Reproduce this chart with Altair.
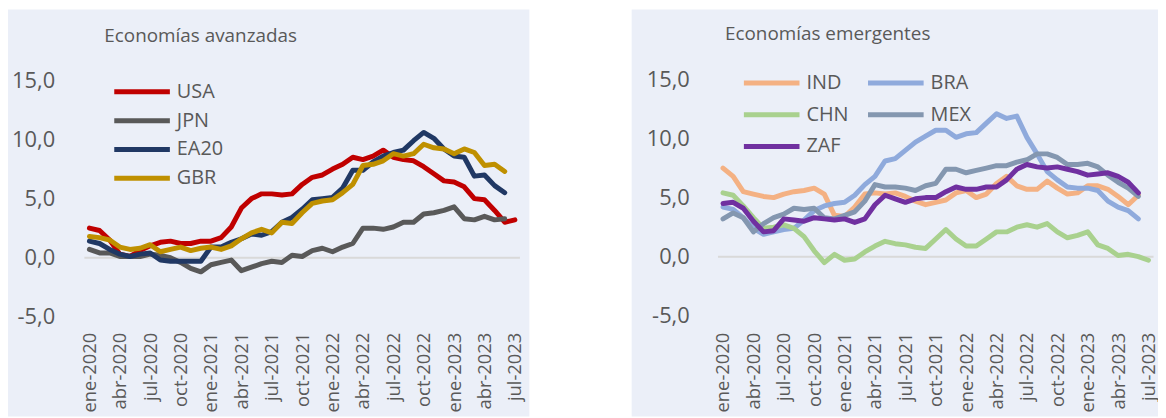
import json
import altair as alt
import pandas as pd

# ---------------- data ----------------
TICK_MONTHS = list(range(0, 43, 3))
TICK_LABELS = ["ene-2020", "abr-2020", "jul-2020", "oct-2020",
               "ene-2021", "abr-2021", "jul-2021", "oct-2021",
               "ene-2022", "abr-2022", "jul-2022", "oct-2022",
               "ene-2023", "abr-2023", "jul-2023"]
Y_TICKS = [-5, 0, 5, 10, 15]

ADV_TITLE = "Economías avanzadas"
ADV_NAMES = ["USA", "JPN", "EA20", "GBR"]
ADV_COLORS = ["#C00000", "#595959", "#203864", "#BF9000"]
USA = [2.5, 2.3, 1.5, 0.3, 0.1, 0.6, 1.0, 1.3, 1.4, 1.2, 1.2, 1.4,
       1.4, 1.7, 2.6, 4.2, 5.0, 5.4, 5.4, 5.3, 5.4, 6.2, 6.8, 7.0,
       7.5, 7.9, 8.5, 8.3, 8.6, 9.1, 8.5, 8.3, 8.2, 7.7, 7.1, 6.5,
       6.4, 6.0, 5.0, 4.9, 4.0, 3.0, 3.2]
JPN = [0.7, 0.4, 0.4, 0.1, 0.1, 0.1, 0.3, 0.2, 0.0, -0.4, -0.9, -1.2,
       -0.6, -0.4, -0.2, -1.1, -0.8, -0.5, -0.3, -0.4, 0.2, 0.1, 0.6, 0.8,
       0.5, 0.9, 1.2, 2.5, 2.5, 2.4, 2.6, 3.0, 3.0, 3.7, 3.8, 4.0,
       4.3, 3.3, 3.2, 3.5, 3.2, 3.3]
EA20 = [1.4, 1.2, 0.7, 0.3, 0.1, 0.3, 0.4, -0.2, -0.3, -0.3, -0.3, -0.3,
        0.9, 0.9, 1.3, 1.6, 2.0, 1.9, 2.2, 3.0, 3.4, 4.1, 4.9, 5.0,
        5.1, 5.9, 7.4, 7.4, 8.1, 8.6, 8.9, 9.1, 9.9, 10.6, 10.1, 9.2,
        8.6, 8.5, 6.9, 7.0, 6.1, 5.5]
GBR = [1.8, 1.7, 1.5, 0.9, 0.7, 0.8, 1.1, 0.5, 0.7, 0.9, 0.6, 0.8,
       0.9, 0.7, 1.0, 1.6, 2.1, 2.4, 2.1, 3.0, 2.9, 3.8, 4.6, 4.8,
       4.9, 5.5, 6.2, 7.8, 7.9, 8.2, 8.8, 8.6, 8.8, 9.6, 9.3, 9.2,
       8.8, 9.2, 8.9, 7.8, 7.9, 7.3]

EME_TITLE = "Economías emergentes"
EME_NAMES = ["IND", "BRA", "CHN", "MEX", "ZAF"]
EME_COLORS = ["#F4B183", "#8FAADC", "#A9D18E", "#8497B0", "#7030A0"]
IND = [7.5, 6.8, 5.5, 5.3, 5.1, 5.0, 5.3, 5.5, 5.6, 5.8, 5.3, 3.5,
       3.4, 4.2, 5.3, 5.4, 5.3, 5.4, 5.1, 4.7, 4.4, 4.6, 4.8, 5.4,
       5.6, 5.0, 5.3, 6.2, 6.8, 6.0, 5.7, 5.7, 6.4, 5.8, 5.3, 5.4,
       6.0, 6.0, 5.7, 5.1, 4.4, 5.2]
BRA = [4.2, 4.0, 3.3, 2.4, 1.9, 2.1, 2.3, 2.4, 3.1, 3.9, 4.3, 4.5,
       4.6, 5.2, 6.1, 6.8, 8.1, 8.3, 9.0, 9.7, 10.2, 10.7, 10.7, 10.1,
       10.4, 10.5, 11.3, 12.1, 11.7, 11.9, 10.1, 8.7, 7.2, 6.5, 5.9, 5.8,
       5.8, 5.6, 4.7, 4.2, 3.9, 3.2]
CHN = [5.4, 5.2, 4.3, 3.3, 2.4, 2.5, 2.7, 2.4, 1.7, 0.5, -0.5, 0.2,
       -0.3, -0.2, 0.4, 0.9, 1.3, 1.1, 1.0, 0.8, 0.7, 1.5, 2.3, 1.5,
       0.9, 0.9, 1.5, 2.1, 2.1, 2.5, 2.7, 2.5, 2.8, 2.1, 1.6, 1.8,
       2.1, 1.0, 0.7, 0.1, 0.2, 0.0, -0.3]
MEX = [3.2, 3.7, 3.3, 2.1, 2.8, 3.3, 3.6, 4.1, 4.0, 4.1, 3.3, 3.2,
       3.5, 3.8, 4.7, 6.1, 5.9, 5.9, 5.8, 5.6, 6.0, 6.2, 7.4, 7.4,
       7.1, 7.3, 7.5, 7.7, 7.7, 8.0, 8.2, 8.7, 8.7, 8.4, 7.8, 7.8,
       7.9, 7.6, 6.9, 6.3, 5.8, 5.1]
ZAF = [4.5, 4.6, 4.1, 3.0, 2.1, 2.2, 3.2, 3.1, 3.0, 3.3, 3.2, 3.1,
       3.2, 2.9, 3.2, 4.4, 5.2, 4.9, 4.6, 4.9, 5.0, 5.0, 5.5, 5.9,
       5.7, 5.7, 5.9, 5.9, 6.5, 7.4, 7.8, 7.6, 7.5, 7.6, 7.4, 7.2,
       6.9, 7.0, 7.1, 6.8, 6.3, 5.4]

# ---------------- style ----------------
BG = "#EBEFF8"
TXT = "#595959"
FONT = "Open Sans"


def long_df(names, series):
    rows = []
    for k, (n, s) in enumerate(zip(names, series)):
        for i, v in enumerate(s):
            rows.append({"month": i, "country": n, "value": v, "k": k})
    return pd.DataFrame(rows)


def panel(names, colors, series, title, w, h, xrange, yrange, ylab_x,
          xlab_y, title_xy, lx, ly, cols, rowpad, colpad):
    df = long_df(names, series)
    xs = alt.Scale(domain=[0, 42], range=xrange, nice=False, zero=False)
    ys = alt.Scale(domain=[-5, 15], range=yrange, nice=False, zero=False)
    x_axis = alt.Axis(values=TICK_MONTHS,
                      labelExpr=json.dumps(TICK_LABELS) + "[round(datum.value/3)]",
                      labelAngle=270, labelAlign="right", labelBaseline="middle",
                      labelPadding=0, offset=xlab_y - h, ticks=False, domain=False,
                      grid=False, title=None, labelFontSize=18.5, labelColor=TXT,
                      labelFont=FONT, labelOverlap=False, labelSeparation=0)
    y_axis = alt.Axis(values=Y_TICKS,
                      labelExpr="replace(replace(format(datum.value, '.1f'), '.', ','), '\u2212', '-')",
                      labelPadding=0, offset=-ylab_x, ticks=False, domain=False,
                      grid=False, title=None, labelFontSize=22, labelColor=TXT,
                      labelFont=FONT, labelOverlap=False)
    legend = alt.Legend(orient="none", legendX=lx, legendY=ly, title=None,
                        direction="horizontal",
                        symbolType="M-4,0H4", symbolSize=196, symbolStrokeWidth=5,
                        symbolFillColor="transparent",
                        labelOffset=25, labelFontSize=20, labelColor=TXT,
                        labelFont=FONT, columns=cols, rowPadding=rowpad,
                        columnPadding=colpad)
    zero = alt.Chart(pd.DataFrame({"z": [0]})).mark_rule(
        color="#D9D9D9", strokeWidth=2).encode(
        x=alt.X("a:Q", scale=xs, axis=x_axis), x2="b:Q",
        y=alt.Y("z:Q", scale=ys, axis=y_axis)).transform_calculate(
        a="-0.5", b="42.5")
    lines = alt.Chart(df).mark_line(strokeWidth=5, strokeCap="round",
                                    strokeJoin="round").encode(
        x=alt.X("month:Q", scale=xs, axis=x_axis),
        y=alt.Y("value:Q", scale=ys, axis=y_axis),
        color=alt.Color("country:N", scale=alt.Scale(domain=names, range=colors),
                        legend=legend),
        order="month:Q",
    )
    ttl = alt.Chart(pd.DataFrame({"t": [title]})).mark_text(
        align="left", baseline="middle", fontSize=19, color=TXT, font=FONT).encode(
        x=alt.value(title_xy[0]), y=alt.value(title_xy[1]), text="t:N")
    return alt.layer(zero, lines, ttl).properties(width=w, height=h)


left = panel(ADV_NAMES, ADV_COLORS, [USA, JPN, EA20, GBR], ADV_TITLE,
             525, 410, [82, 510.4], [309.5, 71.5], 47, 325, (97, 27),
             125, 73, 1, 9, 10)
right = panel(EME_NAMES, EME_COLORS, [IND, BRA, CHN, MEX, ZAF], EME_TITLE,
              530, 410, [92, 520.4], [308.5, 70.5], 58, 325, (94, 25),
              131, 64, 2, 12, 9)

chart = alt.hconcat(left, right, spacing=103).resolve_scale(
    color="independent", x="independent", y="independent").properties(
    padding=0, background="white").configure_view(fill=BG, stroke=None).configure_axis(
    labelOverlap=False)

chart.save("out.html", embed_options={"renderer": "svg", "actions": False})
